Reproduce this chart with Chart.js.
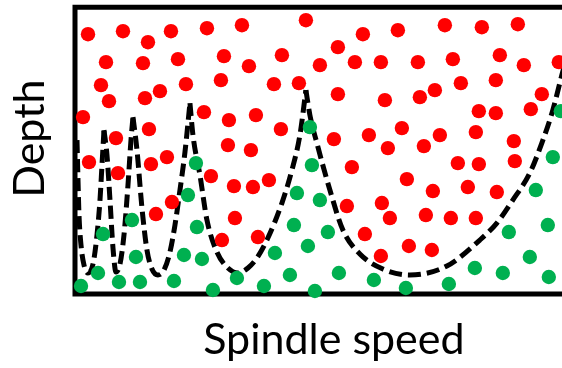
<!DOCTYPE html>
<html>
<head>
<meta charset="utf-8">
<script src="https://cdn.jsdelivr.net/npm/chart.js@4"></script>
<style>
  html, body { margin: 0; padding: 0; background: #fff; overflow: hidden; }
  #wrap { width: 600px; height: 368px; }
</style>
</head>
<body>
<div id="wrap"><canvas id="c" width="600" height="368"></canvas></div>
<script>
// Axis titles
const xTitle = 'Spindle speed';
const yTitle = 'Depth';

// Unstable (chatter) test points: [spindle speed, depth]
const unstablePoints = [
  [13,260],[48,263],[73,252],[96,263],[132,266],[167,269],[231,274],[288,260],[323,264],[370,269],[407,267],[443,270],
  [31,232],[68,231],[103,235],[149,238],[174,228],[207,239],[263,247],[245,229],[280,232],[306,232],[343,232],[378,235],[425,239],[449,229],[484,232],
  [26,209],[34,193],[70,196],[85,203],[111,210],[146,214],[199,210],[224,211],[263,200],[310,194],[345,197],[360,204],[386,211],[421,214],[467,200],
  [8,177],[129,182],[154,174],[181,179],[404,183],[421,181],[456,185],
  [74,165],[41,156],[153,149],[206,165],[259,155],[294,159],[327,166],[365,159],[401,162],[439,153],[176,144],[313,146],[349,148],
  [14,132],[43,121],[76,130],[92,137],[136,118],[97,92],[81,80],[147,54],[159,108],[178,107],[194,114],[277,127],
  [160,76],[183,57],[272,88],[307,91],[315,76],[290,60],[306,38],
  [383,131],[404,130],[440,133],[332,115],[358,103],[393,107],[422,102],[351,79],[376,76],[401,76],[334,48],[357,44]
];

// Stable test points: [spindle speed, depth]
const stablePoints = [
  [235,167],[486,183],[478,137],[461,104],[434,62],[473,69],[455,37],[428,21],[474,17],[400,26],[374,10],[331,6],[299,14],
  [237,129],[222,101],[245,94],[219,69],[253,62],[233,48],[200,41],[162,16],[189,8],[215,19],[240,3],[264,21],
  [121,131],[113,99],[57,74],[122,67],[28,60],[61,37],[109,39],[127,35],[23,21],[6,8],[44,12],[65,12],[99,13],[138,4]
];

// Stability lobes (boundary), one array per lobe
const lobe0 = [[2,154],[3,114],[4,79],[6,49],[9,29],[13,21],[18,30],[22,59],[25,94],[27,129],[29,164]];
const lobe1 = [[29,164],[32,139],[35,94],[38,46],[41,22],[45,30],[49,59],[53,109],[56,154],[58,177]];
const lobe2 = [[58,177],[62,144],[67,86],[72,44],[77,25],[83,19],[89,24],[95,42],[100,69],[105,104],[110,142],[115,191]];
const lobe3 = [[115,191],[118,159],[125,119],[132,74],[142,42],[153,26],[163,21],[173,26],[182,36],[192,54],[207,91],[217,124],[225,159],[231,204]];
const lobe4 = [[231,204],[235,179],[242,151],[255,104],[268,64],[285,40],[308,25],[335,19],[372,28],[405,54],[422,71],[438,94],[455,121],[467,151],[478,184],[487,219],[495,249]];

const toXY = arr => arr.map(p => ({x: p[0], y: p[1]}));

const lobeDataset = arr => ({
  type: 'scatter',
  data: toXY(arr),
  showLine: true,
  borderColor: '#000000',
  borderWidth: 5,
  borderDash: [13, 6],
  pointRadius: 0,
  fill: false,
  cubicInterpolationMode: 'monotone',
  clip: false,
  order: 2
});

const framePlugin = {
  id: 'frame',
  afterLayout(chart) {
    // nudge the y-axis title block upward, as in the reference
    const s = chart.scales.y;
    s.top -= 12;
    s.bottom -= 12;
  },
  beforeDatasetsDraw(chart) {
    const {ctx, chartArea: a} = chart;
    ctx.save();
    ctx.strokeStyle = '#000000';
    ctx.lineWidth = 5;
    ctx.beginPath();
    ctx.moveTo(a.left, a.top - 2.5);
    ctx.lineTo(a.left, a.bottom + 2.5);
    ctx.moveTo(a.left - 2.5, a.top);
    ctx.lineTo(chart.width, a.top);
    ctx.moveTo(a.left - 2.5, a.bottom);
    ctx.lineTo(chart.width, a.bottom);
    ctx.stroke();
    ctx.restore();
  }
};

new Chart(document.getElementById('c'), {
  type: 'scatter',
  data: {
    datasets: [
      { data: toXY(unstablePoints), backgroundColor: '#FF0000', borderWidth: 0, pointRadius: 7.2, pointHoverRadius: 7.2, clip: false, order: 0 },
      { data: toXY(stablePoints), backgroundColor: '#00B050', borderWidth: 0, pointRadius: 7.2, pointHoverRadius: 7.2, clip: false, order: 0 },
      lobeDataset(lobe0),
      lobeDataset(lobe1),
      lobeDataset(lobe2),
      lobeDataset(lobe3),
      lobeDataset(lobe4)
    ]
  },
  options: {
    responsive: false,
    animation: false,
    devicePixelRatio: 1,
    layout: { padding: { left: 0, right: 7, top: 7, bottom: 1.8 } },
    plugins: { legend: { display: false }, tooltip: { enabled: false } },
    scales: {
      x: {
        type: 'linear', min: 0, max: 518,
        ticks: { display: false },
        grid: { display: false, drawTicks: false },
        border: { display: false },
        title: { display: true, text: xTitle, color: '#000000', font: { family: 'Lato', size: 43 }, padding: { top: 20.6, bottom: 0 } }
      },
      y: {
        type: 'linear', min: 0, max: 287,
        ticks: { display: false },
        grid: { display: false, drawTicks: false },
        border: { display: false },
        title: { display: true, text: yTitle, color: '#000000', font: { family: 'Lato', size: 43 }, padding: { top: 4.6, bottom: 18.8 } }
      }
    }
  },
  plugins: [framePlugin]
});
</script>
</body>
</html>
